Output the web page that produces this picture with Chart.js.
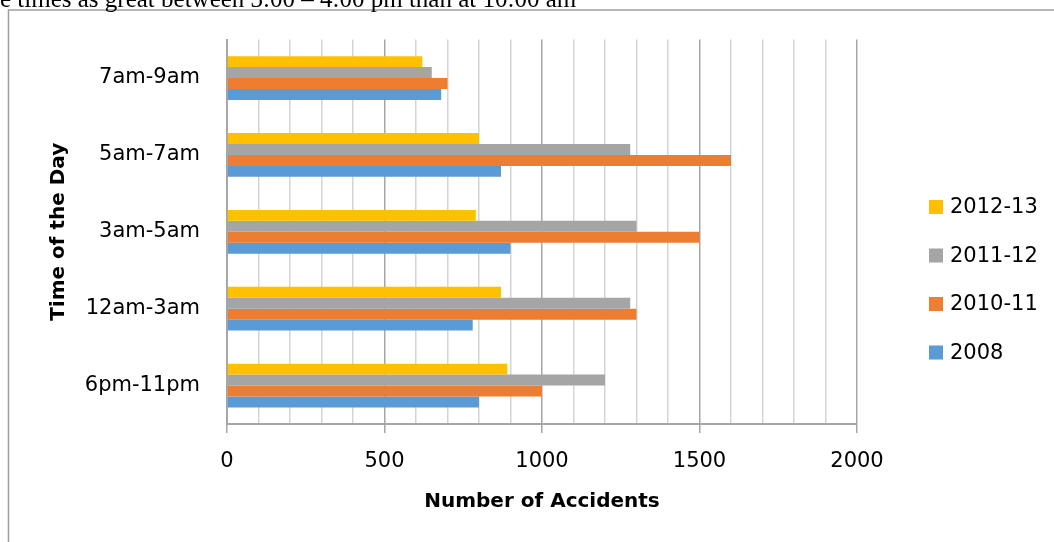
<!DOCTYPE html>
<html>
<head>
<meta charset="utf-8">
<script src="https://cdn.jsdelivr.net/npm/chart.js@4.4.1/dist/chart.umd.min.js"></script>
<style>
  html, body { margin: 0; padding: 0; background: #fff; overflow: hidden; }
  #wrap { position: relative; width: 1054px; height: 542px; }
  #note {
    position: absolute; left: 0; top: -14px; white-space: nowrap;
    font-family: "Liberation Serif", "Times New Roman", serif; font-size: 25px; line-height: 1;
  }
  canvas { position: absolute; left: 0; top: 0; }
</style>
</head>
<body>
<div id="wrap">
  <canvas id="accidentsChart" width="1054" height="542"></canvas>
  <div id="note">e times as great between 3:00 – 4:00 pm than at 10:00 am</div>
</div>
<script>
// categories, bottom to top as in the original
const timeOfDay = ["6pm-11pm", "12am-3am", "3am-5am", "5am-7am", "7am-9am"];

// accidents per series
const acc2008 = [800, 780, 900, 870, 680];
const acc2010 = [1000, 1300, 1500, 1600, 700];
const acc2011 = [1200, 1280, 1300, 1280, 650];
const acc2012 = [890, 870, 790, 800, 620];

const seriesLabels = ["2008", "2010-11", "2011-12", "2012-13"];
const seriesColors = ["#5B9BD5", "#ED7D31", "#A5A5A5", "#FFC000"];

const xMin = 0;
const xMax = 2000;
const xStep = 100;
const labelStep = 500;

const FONT = "'DejaVu Sans', sans-serif";

// frame round the whole chart, like the Excel chart border
const framePlugin = {
  id: "frame",
  beforeDraw(chart) {
    const c = chart.ctx;
    c.save();
    c.strokeStyle = "#a0a0a0";
    c.lineWidth = 1.5;
    c.strokeRect(8.5, 10, 1200, 700);
    c.restore();
  },
};

// legend drawn by hand, in dataset order (2012-13 first)
const legendPlugin = {
  id: "sideLegend",
  afterDraw(chart) {
    const c = chart.ctx;
    const sets = chart.data.datasets;
    c.save();
    c.font = "21px " + FONT;
    c.textBaseline = "middle";
    for (let i = 0; i < sets.length; i++) {
      const ds = sets[i];
      const y = 207 + i * 48.5;
      c.fillStyle = ds.backgroundColor;
      c.fillRect(929, y - 7, 14, 14);
      c.fillStyle = "#000";
      c.fillText(ds.label, 950, y + 1);
    }
    c.restore();
  },
};

document.addEventListener("DOMContentLoaded", () => {
  const ctx = document.getElementById("accidentsChart").getContext("2d");

  // dataset 0 sits at the top of each group, so go from last series to first
  const seriesData = [acc2008, acc2010, acc2011, acc2012];
  const datasets = seriesData.map((vals, i) => ({
    label: seriesLabels[i],
    data: vals,
    backgroundColor: seriesColors[i],
    borderWidth: 0,
    categoryPercentage: 0.57,
    barPercentage: 1.0,
  })).reverse();

  new Chart(ctx, {
    type: "bar",
    data: {
      labels: timeOfDay,
      datasets: datasets,
    },
    options: {
      indexAxis: "y",
      responsive: false,
      animation: false,
      layout: { padding: { top: 38, right: 197, left: 0, bottom: 0 } },
      plugins: {
        legend: { display: false },
        tooltip: { enabled: false },
      },
      scales: {
        x: {
          min: xMin,
          max: xMax,
          afterFit(s) { s.height = 118; },
          ticks: {
            stepSize: xStep,
            autoSkip: false,
            maxRotation: 0,
            padding: 16,
            color: "#000",
            font: { family: FONT, size: 21 },
            callback: (v) => (v % labelStep === 0 ? v : ""),
          },
          grid: {
            lineWidth: 1.5,
            tickLength: 9,
            color: (c) => (c.tick && c.tick.value % labelStep === 0 ? "#a6a6a6" : "#d4d4d4"),
            tickColor: (c) => (c.tick && c.tick.value % labelStep === 0 ? "#a6a6a6" : "rgba(0,0,0,0)"),
          },
          border: { color: "#a6a6a6", width: 2 },
          title: {
            display: true,
            text: "Number of Accidents",
            color: "#000",
            font: { family: FONT, size: 20, weight: "bold" },
            padding: { top: 0, bottom: 28 },
          },
        },
        y: {
          reverse: true,
          afterFit(s) { s.width = 227; },
          ticks: {
            padding: 27,
            color: "#000",
            font: { family: FONT, size: 21 },
          },
          grid: { display: false, drawTicks: false },
          border: { display: true, color: "#a6a6a6", width: 2 },
          title: {
            display: true,
            text: "Time of the Day",
            color: "#000",
            font: { family: FONT, size: 20, weight: "bold" },
            padding: { top: 47, bottom: 0 },
          },
        },
      },
    },
    plugins: [framePlugin, legendPlugin],
  });
});
</script>
</body>
</html>
